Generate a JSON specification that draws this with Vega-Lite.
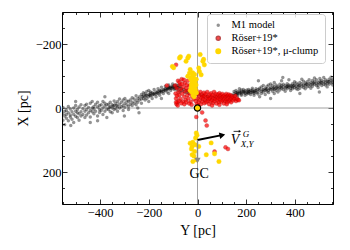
{
"$schema":"https://vega.github.io/schema/vega-lite/v6.json",
"width":271,"height":192,
"autosize":{"type":"none"},
"padding":{"left":62,"top":12,"right":17,"bottom":46},
"config":{"font":"Liberation Serif","view":{"stroke":"black","strokeWidth":1}},
"datasets":{
"pts":[
{"s":"g","Y":-558,"X":30},{"s":"g","Y":-558,"X":5},{"s":"g","Y":-558,"X":45},
{"s":"g","Y":-552,"X":18},{"s":"g","Y":-552,"X":-2},{"s":"g","Y":-552,"X":38},
{"s":"g","Y":-545,"X":25},{"s":"g","Y":-545,"X":10},{"s":"g","Y":-545,"X":52},
{"s":"g","Y":-538,"X":8},{"s":"g","Y":-538,"X":32},{"s":"g","Y":-538,"X":20},
{"s":"g","Y":-530,"X":15},{"s":"g","Y":-530,"X":40},{"s":"g","Y":-530,"X":-5},
{"s":"g","Y":-522,"X":22},{"s":"g","Y":-522,"X":3},{"s":"g","Y":-522,"X":28},
{"s":"g","Y":-515,"X":12},{"s":"g","Y":-515,"X":35},
{"s":"g","Y":-508,"X":0},{"s":"g","Y":-508,"X":20},{"s":"g","Y":-508,"X":45},
{"s":"g","Y":-500,"X":10},{"s":"g","Y":-500,"X":26},{"s":"g","Y":-500,"X":-8},
{"s":"g","Y":-493,"X":5},{"s":"g","Y":-493,"X":30},{"s":"g","Y":-493,"X":15},
{"s":"g","Y":-486,"X":-3},{"s":"g","Y":-486,"X":18},{"s":"g","Y":-486,"X":38},
{"s":"g","Y":-478,"X":12},{"s":"g","Y":-478,"X":-10},{"s":"g","Y":-478,"X":25},
{"s":"g","Y":-470,"X":2},{"s":"g","Y":-470,"X":20},
{"s":"g","Y":-462,"X":-8},{"s":"g","Y":-462,"X":10},{"s":"g","Y":-462,"X":30},
{"s":"g","Y":-455,"X":5},{"s":"g","Y":-455,"X":-12},{"s":"g","Y":-455,"X":22},
{"s":"g","Y":-447,"X":-2},{"s":"g","Y":-447,"X":15},
{"s":"g","Y":-440,"X":8},{"s":"g","Y":-440,"X":-15},{"s":"g","Y":-440,"X":28},
{"s":"g","Y":-432,"X":0},{"s":"g","Y":-432,"X":12},{"s":"g","Y":-432,"X":-20},
{"s":"g","Y":-425,"X":-5},{"s":"g","Y":-425,"X":18},{"s":"g","Y":-425,"X":3},
{"s":"g","Y":-418,"X":10},{"s":"g","Y":-418,"X":-12},
{"s":"g","Y":-410,"X":-3},{"s":"g","Y":-410,"X":25},{"s":"g","Y":-410,"X":-18},
{"s":"g","Y":-402,"X":5},{"s":"g","Y":-402,"X":-8},{"s":"g","Y":-402,"X":14},
{"s":"g","Y":-395,"X":-10},{"s":"g","Y":-395,"X":8},
{"s":"g","Y":-388,"X":0},{"s":"g","Y":-388,"X":-20},{"s":"g","Y":-388,"X":20},
{"s":"g","Y":-380,"X":-6},{"s":"g","Y":-380,"X":10},{"s":"g","Y":-380,"X":-15},
{"s":"g","Y":-372,"X":3},{"s":"g","Y":-372,"X":-10},{"s":"g","Y":-372,"X":30},
{"s":"g","Y":-365,"X":-12},{"s":"g","Y":-365,"X":5},
{"s":"g","Y":-358,"X":-4},{"s":"g","Y":-358,"X":-18},{"s":"g","Y":-358,"X":12},
{"s":"g","Y":-350,"X":0},{"s":"g","Y":-350,"X":-10},{"s":"g","Y":-350,"X":15},
{"s":"g","Y":-342,"X":-8},{"s":"g","Y":-342,"X":-22},{"s":"g","Y":-342,"X":5},
{"s":"g","Y":-335,"X":-14},{"s":"g","Y":-335,"X":2},
{"s":"g","Y":-328,"X":-5},{"s":"g","Y":-328,"X":-20},{"s":"g","Y":-328,"X":10},
{"s":"g","Y":-320,"X":-12},{"s":"g","Y":-320,"X":0},{"s":"g","Y":-320,"X":-28},
{"s":"g","Y":-312,"X":-18},{"s":"g","Y":-312,"X":-4},
{"s":"g","Y":-305,"X":-8},{"s":"g","Y":-305,"X":-25},{"s":"g","Y":-305,"X":8},
{"s":"g","Y":-298,"X":-15},{"s":"g","Y":-298,"X":-2},{"s":"g","Y":-298,"X":-30},
{"s":"g","Y":-290,"X":-10},{"s":"g","Y":-290,"X":-22},
{"s":"g","Y":-283,"X":-20},{"s":"g","Y":-283,"X":-5},{"s":"g","Y":-283,"X":5},
{"s":"g","Y":-276,"X":-25},{"s":"g","Y":-276,"X":-12},
{"s":"g","Y":-268,"X":-18},{"s":"g","Y":-268,"X":-32},{"s":"g","Y":-268,"X":-8},
{"s":"g","Y":-260,"X":-28},{"s":"g","Y":-260,"X":-15},
{"s":"g","Y":-252,"X":-22},{"s":"g","Y":-252,"X":-38},{"s":"g","Y":-252,"X":-10},
{"s":"g","Y":-245,"X":-30},{"s":"g","Y":-245,"X":-18},{"s":"g","Y":-245,"X":0},
{"s":"g","Y":-238,"X":-35},{"s":"g","Y":-238,"X":-25},
{"s":"g","Y":-230,"X":-28},{"s":"g","Y":-230,"X":-42},{"s":"g","Y":-230,"X":-15},
{"s":"g","Y":-222,"X":-38},{"s":"g","Y":-222,"X":-30},{"s":"g","Y":-222,"X":-48},
{"s":"g","Y":-215,"X":-35},{"s":"g","Y":-215,"X":-45},{"s":"g","Y":-215,"X":-25},
{"s":"g","Y":-208,"X":-40},{"s":"g","Y":-208,"X":-52},{"s":"g","Y":-208,"X":-30},
{"s":"g","Y":-200,"X":-42},{"s":"g","Y":-200,"X":-35},{"s":"g","Y":-200,"X":-55},{"s":"g","Y":-200,"X":-20},
{"s":"g","Y":-193,"X":-45},{"s":"g","Y":-193,"X":-38},{"s":"g","Y":-193,"X":-50},
{"s":"g","Y":-186,"X":-40},{"s":"g","Y":-186,"X":-48},{"s":"g","Y":-186,"X":-30},
{"s":"g","Y":-178,"X":-46},{"s":"g","Y":-178,"X":-42},{"s":"g","Y":-178,"X":-58},
{"s":"g","Y":-170,"X":-44},{"s":"g","Y":-170,"X":-50},{"s":"g","Y":-170,"X":-35},
{"s":"g","Y":-162,"X":-52},{"s":"g","Y":-162,"X":-45},{"s":"g","Y":-162,"X":-60},
{"s":"g","Y":-155,"X":-48},{"s":"g","Y":-155,"X":-55},{"s":"g","Y":-155,"X":-40},
{"s":"g","Y":-148,"X":-55},{"s":"g","Y":-148,"X":-50},{"s":"g","Y":-148,"X":-65},{"s":"g","Y":-148,"X":-30},
{"s":"g","Y":-140,"X":-58},{"s":"g","Y":-140,"X":-52},{"s":"g","Y":-140,"X":-45},
{"s":"g","Y":-132,"X":-60},{"s":"g","Y":-132,"X":-55},{"s":"g","Y":-132,"X":-68},
{"s":"g","Y":-125,"X":-62},{"s":"g","Y":-125,"X":-58},{"s":"g","Y":-125,"X":-50},
{"s":"g","Y":-118,"X":-65},{"s":"g","Y":-118,"X":-60},{"s":"g","Y":-118,"X":-72},{"s":"g","Y":-118,"X":-45},
{"s":"g","Y":-110,"X":-66},{"s":"g","Y":-110,"X":-62},{"s":"g","Y":-110,"X":-55},
{"s":"g","Y":-102,"X":-68},{"s":"g","Y":-102,"X":-64},{"s":"g","Y":-102,"X":-75},
{"s":"g","Y":-95,"X":-70},{"s":"g","Y":-95,"X":-62},{"s":"g","Y":-95,"X":-58},
{"s":"g","Y":-88,"X":-66},{"s":"g","Y":-88,"X":-72},{"s":"g","Y":-88,"X":-60},
{"s":"g","Y":-80,"X":-64},{"s":"g","Y":-80,"X":-70},{"s":"g","Y":-80,"X":-55},
{"s":"g","Y":-72,"X":-62},{"s":"g","Y":-72,"X":-68},{"s":"g","Y":-72,"X":-50},
{"s":"g","Y":-65,"X":-60},{"s":"g","Y":-65,"X":-55},
{"s":"g","Y":-55,"X":-58},{"s":"g","Y":-55,"X":-50},
{"s":"g","Y":-45,"X":-55},{"s":"g","Y":-45,"X":-48},
{"s":"g","Y":-35,"X":-52},{"s":"g","Y":-35,"X":-45},
{"s":"g","Y":-25,"X":-50},{"s":"g","Y":-15,"X":-48},{"s":"g","Y":-5,"X":-45},
{"s":"g","Y":5,"X":-42},{"s":"g","Y":15,"X":-40},{"s":"g","Y":25,"X":-38},
{"s":"g","Y":40,"X":-36},{"s":"g","Y":55,"X":-35},{"s":"g","Y":70,"X":-34},
{"s":"g","Y":85,"X":-34},{"s":"g","Y":100,"X":-35},{"s":"g","Y":115,"X":-36},
{"s":"g","Y":130,"X":-38},{"s":"g","Y":140,"X":-40},
{"s":"g","Y":150,"X":-45},{"s":"g","Y":150,"X":-38},{"s":"g","Y":150,"X":-52},
{"s":"g","Y":158,"X":-48},{"s":"g","Y":158,"X":-42},{"s":"g","Y":158,"X":-55},
{"s":"g","Y":165,"X":-50},{"s":"g","Y":165,"X":-44},{"s":"g","Y":165,"X":-38},
{"s":"g","Y":172,"X":-52},{"s":"g","Y":172,"X":-46},{"s":"g","Y":172,"X":-60},
{"s":"g","Y":180,"X":-50},{"s":"g","Y":180,"X":-44},{"s":"g","Y":180,"X":-56},{"s":"g","Y":180,"X":-40},
{"s":"g","Y":188,"X":-52},{"s":"g","Y":188,"X":-48},{"s":"g","Y":188,"X":-58},
{"s":"g","Y":195,"X":-54},{"s":"g","Y":195,"X":-46},{"s":"g","Y":195,"X":-40},
{"s":"g","Y":203,"X":-50},{"s":"g","Y":203,"X":-56},{"s":"g","Y":203,"X":-44},
{"s":"g","Y":210,"X":-52},{"s":"g","Y":210,"X":-58},{"s":"g","Y":210,"X":-46},
{"s":"g","Y":218,"X":-48},{"s":"g","Y":218,"X":-55},{"s":"g","Y":218,"X":-42},
{"s":"g","Y":225,"X":-50},{"s":"g","Y":225,"X":-56},{"s":"g","Y":225,"X":-62},
{"s":"g","Y":232,"X":-52},{"s":"g","Y":232,"X":-46},{"s":"g","Y":232,"X":-40},
{"s":"g","Y":240,"X":-54},{"s":"g","Y":240,"X":-60},{"s":"g","Y":240,"X":-48},
{"s":"g","Y":248,"X":-50},{"s":"g","Y":248,"X":-44},{"s":"g","Y":248,"X":-58},
{"s":"g","Y":255,"X":-56},{"s":"g","Y":255,"X":-62},{"s":"g","Y":255,"X":-35},
{"s":"g","Y":262,"X":-52},{"s":"g","Y":262,"X":-66},{"s":"g","Y":262,"X":-45},
{"s":"g","Y":270,"X":-58},{"s":"g","Y":270,"X":-50},{"s":"g","Y":270,"X":-70},
{"s":"g","Y":278,"X":-62},{"s":"g","Y":278,"X":-55},{"s":"g","Y":278,"X":-42},
{"s":"g","Y":285,"X":-60},{"s":"g","Y":285,"X":-68},{"s":"g","Y":285,"X":-52},
{"s":"g","Y":292,"X":-55},{"s":"g","Y":292,"X":-72},{"s":"g","Y":292,"X":-48},
{"s":"g","Y":300,"X":-64},{"s":"g","Y":300,"X":-58},{"s":"g","Y":300,"X":-75},
{"s":"g","Y":308,"X":-60},{"s":"g","Y":308,"X":-70},{"s":"g","Y":308,"X":-52},
{"s":"g","Y":315,"X":-66},{"s":"g","Y":315,"X":-58},{"s":"g","Y":315,"X":-80},{"s":"g","Y":315,"X":-45},
{"s":"g","Y":322,"X":-62},{"s":"g","Y":322,"X":-72},{"s":"g","Y":322,"X":-55},
{"s":"g","Y":330,"X":-68},{"s":"g","Y":330,"X":-60},{"s":"g","Y":330,"X":-50},
{"s":"g","Y":338,"X":-64},{"s":"g","Y":338,"X":-74},{"s":"g","Y":338,"X":-56},
{"s":"g","Y":345,"X":-70},{"s":"g","Y":345,"X":-62},{"s":"g","Y":345,"X":-85},
{"s":"g","Y":352,"X":-66},{"s":"g","Y":352,"X":-58},{"s":"g","Y":352,"X":-74},
{"s":"g","Y":360,"X":-62},{"s":"g","Y":360,"X":-70},{"s":"g","Y":360,"X":-52},
{"s":"g","Y":368,"X":-68},{"s":"g","Y":368,"X":-76},{"s":"g","Y":368,"X":-60},
{"s":"g","Y":375,"X":-64},{"s":"g","Y":375,"X":-72},{"s":"g","Y":375,"X":-88},
{"s":"g","Y":382,"X":-70},{"s":"g","Y":382,"X":-62},{"s":"g","Y":382,"X":-55},
{"s":"g","Y":390,"X":-66},{"s":"g","Y":390,"X":-76},{"s":"g","Y":390,"X":-60},
{"s":"g","Y":398,"X":-72},{"s":"g","Y":398,"X":-64},{"s":"g","Y":398,"X":-82},
{"s":"g","Y":405,"X":-68},{"s":"g","Y":405,"X":-60},{"s":"g","Y":405,"X":-78},
{"s":"g","Y":412,"X":-74},{"s":"g","Y":412,"X":-66},{"s":"g","Y":412,"X":-58},
{"s":"g","Y":420,"X":-70},{"s":"g","Y":420,"X":-80},{"s":"g","Y":420,"X":-62},
{"s":"g","Y":428,"X":-76},{"s":"g","Y":428,"X":-68},{"s":"g","Y":428,"X":-90},
{"s":"g","Y":435,"X":-72},{"s":"g","Y":435,"X":-64},{"s":"g","Y":435,"X":-84},
{"s":"g","Y":442,"X":-78},{"s":"g","Y":442,"X":-70},{"s":"g","Y":442,"X":-60},
{"s":"g","Y":450,"X":-74},{"s":"g","Y":450,"X":-82},{"s":"g","Y":450,"X":-66},
{"s":"g","Y":458,"X":-76},{"s":"g","Y":458,"X":-68},{"s":"g","Y":458,"X":-88},
{"s":"g","Y":465,"X":-80},{"s":"g","Y":465,"X":-72},{"s":"g","Y":465,"X":-62},
{"s":"g","Y":472,"X":-76},{"s":"g","Y":472,"X":-86},{"s":"g","Y":472,"X":-68},
{"s":"g","Y":480,"X":-82},{"s":"g","Y":480,"X":-74},{"s":"g","Y":480,"X":-94},
{"s":"g","Y":488,"X":-78},{"s":"g","Y":488,"X":-70},{"s":"g","Y":488,"X":-88},
{"s":"g","Y":495,"X":-80},{"s":"g","Y":495,"X":-72},{"s":"g","Y":495,"X":-64},
{"s":"g","Y":502,"X":-84},{"s":"g","Y":502,"X":-76},{"s":"g","Y":502,"X":-92},
{"s":"g","Y":510,"X":-78},{"s":"g","Y":510,"X":-70},{"s":"g","Y":510,"X":-86},
{"s":"g","Y":518,"X":-82},{"s":"g","Y":518,"X":-74},{"s":"g","Y":518,"X":-95},
{"s":"g","Y":525,"X":-80},{"s":"g","Y":525,"X":-88},{"s":"g","Y":525,"X":-72},
{"s":"g","Y":532,"X":-84},{"s":"g","Y":532,"X":-76},{"s":"g","Y":532,"X":-66},
{"s":"g","Y":540,"X":-82},{"s":"g","Y":540,"X":-90},{"s":"g","Y":540,"X":-74},
{"s":"g","Y":548,"X":-86},{"s":"g","Y":548,"X":-78},{"s":"g","Y":548,"X":-96},
{"s":"g","Y":555,"X":-80},{"s":"g","Y":555,"X":-88},{"s":"g","Y":555,"X":-72},
{"s":"g","Y":-440,"X":45},{"s":"g","Y":-300,"X":25},{"s":"g","Y":-380,"X":-35},{"s":"g","Y":-240,"X":15},
{"s":"g","Y":300,"X":-30},{"s":"g","Y":420,"X":-45},{"s":"g","Y":500,"X":-50},{"s":"g","Y":250,"X":-85},
{"s":"g","Y":350,"X":-95},{"s":"g","Y":-500,"X":-20},{"s":"g","Y":-520,"X":55},{"s":"g","Y":-410,"X":40},
{"s":"g","Y":-196,"X":-40},{"s":"g","Y":-182,"X":-44},{"s":"g","Y":-166,"X":-48},{"s":"g","Y":-152,"X":-52},
{"s":"g","Y":-114,"X":-64},{"s":"g","Y":-106,"X":-60},{"s":"g","Y":-98,"X":-66},{"s":"g","Y":-84,"X":-64},
{"s":"g","Y":162,"X":-46},{"s":"g","Y":176,"X":-48},{"s":"g","Y":192,"X":-50},{"s":"g","Y":206,"X":-48},
{"s":"g","Y":214,"X":-52},{"s":"g","Y":228,"X":-50},{"s":"g","Y":236,"X":-54},{"s":"g","Y":365,"X":-66},
{"s":"g","Y":372,"X":-68},{"s":"g","Y":386,"X":-68},{"s":"g","Y":394,"X":-70},{"s":"g","Y":-362,"X":-2},
{"s":"g","Y":-346,"X":-6},{"s":"g","Y":-332,"X":-8},
{"s":"g","Y":268,"X":-56},{"s":"g","Y":282,"X":-58},{"s":"g","Y":296,"X":-60},{"s":"g","Y":312,"X":-62},
{"s":"g","Y":326,"X":-64},{"s":"g","Y":342,"X":-66},{"s":"g","Y":416,"X":-70},{"s":"g","Y":446,"X":-74},
{"s":"g","Y":476,"X":-78},{"s":"g","Y":506,"X":-80},{"s":"g","Y":536,"X":-82},{"s":"g","Y":-226,"X":-36},
{"s":"g","Y":-212,"X":-40},{"s":"g","Y":-136,"X":-56},{"s":"g","Y":-122,"X":-60},
{"s":"r","Y":-92,"X":-70},{"s":"r","Y":-85,"X":-62},{"s":"r","Y":-80,"X":-85},{"s":"r","Y":-78,"X":-50},
{"s":"r","Y":-75,"X":-40},{"s":"r","Y":-72,"X":-72},{"s":"r","Y":-70,"X":-28},{"s":"r","Y":-68,"X":-58},
{"s":"r","Y":-65,"X":-90},{"s":"r","Y":-62,"X":-45},{"s":"r","Y":-60,"X":-20},{"s":"r","Y":-58,"X":-66},
{"s":"r","Y":-55,"X":-35},{"s":"r","Y":-52,"X":-78},{"s":"r","Y":-50,"X":-52},{"s":"r","Y":-48,"X":-25},
{"s":"r","Y":-45,"X":-62},{"s":"r","Y":-42,"X":-40},{"s":"r","Y":-40,"X":-85},{"s":"r","Y":-38,"X":-30},
{"s":"r","Y":-36,"X":-55},{"s":"r","Y":-33,"X":-70},{"s":"r","Y":-30,"X":-45},{"s":"r","Y":-28,"X":-20},
{"s":"r","Y":-25,"X":-60},{"s":"r","Y":-22,"X":-35},{"s":"r","Y":-20,"X":-80},{"s":"r","Y":-18,"X":-50},
{"s":"r","Y":-15,"X":-28},{"s":"r","Y":-12,"X":-65},{"s":"r","Y":-10,"X":-42},{"s":"r","Y":-8,"X":-22},
{"s":"r","Y":-5,"X":-55},{"s":"r","Y":-88,"X":-30},{"s":"r","Y":-82,"X":-18},{"s":"r","Y":-86,"X":-12},
{"s":"r","Y":-76,"X":-22},{"s":"r","Y":-66,"X":-15},{"s":"r","Y":-54,"X":-12},{"s":"r","Y":-46,"X":-18},
{"s":"r","Y":-34,"X":-14},{"s":"r","Y":-24,"X":-10},{"s":"r","Y":-90,"X":-45},{"s":"r","Y":-84,"X":-38},
{"s":"r","Y":-74,"X":-80},{"s":"r","Y":-64,"X":-75},{"s":"r","Y":-56,"X":-88},{"s":"r","Y":-44,"X":-72},
{"s":"r","Y":0,"X":-30},{"s":"r","Y":3,"X":-45},{"s":"r","Y":5,"X":-18},{"s":"r","Y":8,"X":-38},
{"s":"r","Y":10,"X":-25},{"s":"r","Y":12,"X":-50},{"s":"r","Y":14,"X":-12},{"s":"r","Y":16,"X":-32},
{"s":"r","Y":18,"X":-42},{"s":"r","Y":20,"X":-20},{"s":"r","Y":22,"X":-35},{"s":"r","Y":24,"X":-28},
{"s":"r","Y":26,"X":-48},{"s":"r","Y":28,"X":-15},{"s":"r","Y":30,"X":-38},{"s":"r","Y":32,"X":-25},
{"s":"r","Y":34,"X":-44},{"s":"r","Y":36,"X":-18},{"s":"r","Y":38,"X":-32},{"s":"r","Y":40,"X":-50},
{"s":"r","Y":42,"X":-22},{"s":"r","Y":44,"X":-36},{"s":"r","Y":46,"X":-28},{"s":"r","Y":48,"X":-12},
{"s":"r","Y":50,"X":-42},{"s":"r","Y":52,"X":-30},{"s":"r","Y":54,"X":-20},{"s":"r","Y":56,"X":-46},
{"s":"r","Y":58,"X":-34},{"s":"r","Y":60,"X":-24},{"s":"r","Y":62,"X":-40},{"s":"r","Y":64,"X":-16},
{"s":"r","Y":66,"X":-30},{"s":"r","Y":68,"X":-50},{"s":"r","Y":70,"X":-22},{"s":"r","Y":72,"X":-38},
{"s":"r","Y":74,"X":-28},{"s":"r","Y":76,"X":-44},{"s":"r","Y":78,"X":-14},{"s":"r","Y":80,"X":-34},
{"s":"r","Y":82,"X":-24},{"s":"r","Y":84,"X":-42},{"s":"r","Y":86,"X":-30},{"s":"r","Y":88,"X":-18},
{"s":"r","Y":90,"X":-46},{"s":"r","Y":92,"X":-36},{"s":"r","Y":94,"X":-26},{"s":"r","Y":96,"X":-40},
{"s":"r","Y":98,"X":-20},{"s":"r","Y":100,"X":-32},{"s":"r","Y":102,"X":-44},{"s":"r","Y":104,"X":-24},
{"s":"r","Y":106,"X":-36},{"s":"r","Y":108,"X":-14},{"s":"r","Y":110,"X":-28},{"s":"r","Y":112,"X":-40},
{"s":"r","Y":114,"X":-22},{"s":"r","Y":116,"X":-34},{"s":"r","Y":118,"X":-44},{"s":"r","Y":120,"X":-26},
{"s":"r","Y":122,"X":-18},{"s":"r","Y":124,"X":-38},{"s":"r","Y":126,"X":-30},{"s":"r","Y":128,"X":-42},
{"s":"r","Y":130,"X":-22},{"s":"r","Y":132,"X":-34},{"s":"r","Y":134,"X":-26},{"s":"r","Y":136,"X":-40},
{"s":"r","Y":138,"X":-18},{"s":"r","Y":140,"X":-30},{"s":"r","Y":143,"X":-36},{"s":"r","Y":146,"X":-24},
{"s":"r","Y":149,"X":-32},{"s":"r","Y":152,"X":-28},{"s":"r","Y":155,"X":-38},{"s":"r","Y":158,"X":-22},
{"s":"r","Y":162,"X":-30},{"s":"r","Y":166,"X":-26},{"s":"r","Y":170,"X":-24},{"s":"r","Y":2,"X":-8},
{"s":"r","Y":-3,"X":-12},{"s":"r","Y":60,"X":-8},{"s":"r","Y":90,"X":-10},{"s":"r","Y":120,"X":-12},
{"s":"r","Y":-88,"X":-135},{"s":"r","Y":-126,"X":-70},{"s":"r","Y":-88,"X":-18},{"s":"r","Y":-81,"X":-8},
{"s":"r","Y":-5,"X":28},{"s":"r","Y":33,"X":39},{"s":"r","Y":38,"X":55},{"s":"r","Y":19,"X":14},
{"s":"r","Y":70,"X":136},{"s":"r","Y":115,"X":123},{"s":"r","Y":125,"X":128},
{"s":"y","Y":-103,"X":-130},{"s":"y","Y":-98,"X":-126},{"s":"y","Y":-74,"X":-156},{"s":"y","Y":-70,"X":-160},
{"s":"y","Y":-40,"X":-156},{"s":"y","Y":-36,"X":-162},{"s":"y","Y":-47,"X":-146},{"s":"y","Y":11,"X":-167},
{"s":"y","Y":22,"X":-146},{"s":"y","Y":25,"X":-152},{"s":"y","Y":28,"X":-135},{"s":"y","Y":8,"X":-114},
{"s":"y","Y":15,"X":-104},{"s":"y","Y":-33,"X":-109},{"s":"y","Y":-40,"X":-99},{"s":"y","Y":-25,"X":-95},
{"s":"y","Y":-30,"X":-120},{"s":"y","Y":-20,"X":-110},{"s":"y","Y":5,"X":-125},
{"s":"y","Y":-28,"X":-90},{"s":"y","Y":-22,"X":-85},{"s":"y","Y":-15,"X":-92},{"s":"y","Y":-10,"X":-80},
{"s":"y","Y":-25,"X":-75},{"s":"y","Y":-18,"X":-70},{"s":"y","Y":-12,"X":-65},{"s":"y","Y":-22,"X":-60},
{"s":"y","Y":-8,"X":-58},{"s":"y","Y":-16,"X":-52},{"s":"y","Y":-24,"X":-50},{"s":"y","Y":-10,"X":-45},
{"s":"y","Y":-18,"X":-40},{"s":"y","Y":-14,"X":-35},{"s":"y","Y":-6,"X":-72},{"s":"y","Y":-20,"X":-100},
{"s":"y","Y":-12,"X":-105},{"s":"y","Y":-5,"X":-90},{"s":"y","Y":-26,"X":-65},{"s":"y","Y":-4,"X":-48},
{"s":"y","Y":-30,"X":-55},
{"s":"y","Y":-5,"X":78},{"s":"y","Y":-8,"X":94},{"s":"y","Y":-2,"X":85},{"s":"y","Y":-19,"X":107},
{"s":"y","Y":-22,"X":120},{"s":"y","Y":-12,"X":136},{"s":"y","Y":-22,"X":146},{"s":"y","Y":-5,"X":162},
{"s":"y","Y":-19,"X":167},{"s":"y","Y":56,"X":109},{"s":"y","Y":36,"X":146},{"s":"y","Y":70,"X":143},
{"s":"y","Y":88,"X":167},{"s":"y","Y":-30,"X":110},{"s":"y","Y":-25,"X":128},{"s":"y","Y":-15,"X":150},
{"s":"y","Y":5,"X":120},{"s":"y","Y":-10,"X":115}
]},
"resolve":{"axis":{"x":"independent","y":"independent"}},
"layer":[
{"data":{"values":[{"Y":0}]},
 "mark":{"type":"rule","color":"#a0a0a0","strokeWidth":1},
 "encoding":{"x":{"field":"Y","type":"quantitative","scale":{"domain":[-556,556],"nice":false,"zero":false},
  "axis":{"orient":"bottom","values":[-550,-500,-450,-400,-350,-300,-250,-200,-150,-100,-50,0,50,100,150,200,250,300,350,400,450,500,550],
   "title":"Y [pc]","domain":false,"grid":false,"tickColor":"black","tickWidth":0.8,
   "tickSize":{"condition":{"test":"datum.value % 200 === 0","value":-5},"value":-2.5},
   "labelExpr":"datum.value % 200 === 0 ? datum.label : ''","labelFontSize":12.5,"labelColor":"black","labelPadding":7,
   "labelFlush":false,"labelOverlap":false,"titleFontSize":14,"titleFontWeight":"normal","titleColor":"black","titlePadding":2}}}},
{"data":{"values":[{"X":0}]},
 "mark":{"type":"rule","color":"#a0a0a0","strokeWidth":1},
 "encoding":{"y":{"field":"X","type":"quantitative","scale":{"domain":[-300,300],"nice":false,"zero":false,"reverse":true},
  "axis":{"orient":"left","values":[-300,-250,-200,-150,-100,-50,0,50,100,150,200,250,300],
   "title":"X [pc]","domain":false,"grid":false,"tickColor":"black","tickWidth":0.8,
   "tickSize":{"condition":{"test":"datum.value % 200 === 0","value":-5},"value":-2.5},
   "labelExpr":"datum.value % 200 === 0 ? datum.label : ''","labelFontSize":12.5,"labelColor":"black","labelPadding":6,
   "labelFlush":false,"labelOverlap":false,"titleFontSize":14,"titleFontWeight":"normal","titleColor":"black","titlePadding":5}}}},
{"data":{"name":"pts"},
 "mark":{"type":"point","filled":true,"strokeWidth":0.4,"clip":true},
 "encoding":{
  "x":{"field":"Y","type":"quantitative","axis":null},
  "y":{"field":"X","type":"quantitative","axis":null},
  "color":{"field":"s","type":"nominal","scale":{"domain":["g","r","y"],"range":["#000000","#ff0000","#ffd700"]},
   "legend":{"orient":"none","legendX":145,"legendY":2,"title":null,
    "labelExpr":"datum.label == 'g' ? 'M1 model' : datum.label == 'r' ? 'Röser+19*' : 'Röser+19*, μ-clump'",
    "labelFontSize":10.5,"labelColor":"black","labelOffset":8,"fillColor":"rgba(255,255,255,0.85)","strokeColor":"#cccccc",
    "cornerRadius":3,"padding":6,"rowPadding":2,"symbolType":"circle"}},
  "stroke":{"field":"s","type":"nominal","scale":{"domain":["g","r","y"],"range":["rgba(0,0,0,0)","#a00000","#ffd700"]}},
  "size":{"field":"s","type":"nominal","scale":{"domain":["g","r","y"],"range":[12,20,30]}},
  "opacity":{"field":"s","type":"nominal","scale":{"domain":["g","r","y"],"range":[0.42,1,1]}}
 }},
{"data":{"values":[{"Y":0,"X":100,"Y2":100,"X2":85}]},
 "mark":{"type":"rule","color":"black","strokeWidth":1.8},
 "encoding":{"x":{"field":"Y","type":"quantitative",
   "axis":{"orient":"top","values":[-550,-500,-450,-400,-350,-300,-250,-200,-150,-100,-50,0,50,100,150,200,250,300,350,400,450,500,550],
   "title":null,"labels":false,"domain":false,"grid":false,"tickColor":"black","tickWidth":0.8,
   "tickSize":{"condition":{"test":"datum.value % 200 === 0","value":-5},"value":-2.5}}},
  "y":{"field":"X","type":"quantitative",
   "axis":{"orient":"right","values":[-300,-250,-200,-150,-100,-50,0,50,100,150,200,250,300],
   "title":null,"labels":false,"domain":false,"grid":false,"tickColor":"black","tickWidth":0.8,
   "tickSize":{"condition":{"test":"datum.value % 200 === 0","value":-5},"value":-2.5}}},
  "x2":{"field":"Y2"},"y2":{"field":"X2"}}},
{"data":{"values":[{"Y":102,"X":85}]},
 "mark":{"type":"point","shape":"triangle-right","filled":true,"color":"black","size":45,"angle":-12,"opacity":1},
 "encoding":{"x":{"field":"Y","type":"quantitative","axis":null},"y":{"field":"X","type":"quantitative","axis":null}}},
{"data":{"values":[{"Y":0,"X":100,"Y2":0,"X2":160}]},
 "mark":{"type":"rule","color":"#888888","strokeWidth":1.4},
 "encoding":{"x":{"field":"Y","type":"quantitative","axis":null},"y":{"field":"X","type":"quantitative","axis":null},
  "x2":{"field":"Y2"},"y2":{"field":"X2"}}},
{"data":{"values":[{"Y":0,"X":164}]},
 "mark":{"type":"point","shape":"triangle-down","filled":true,"color":"#888888","size":40,"opacity":1},
 "encoding":{"x":{"field":"Y","type":"quantitative","axis":null},"y":{"field":"X","type":"quantitative","axis":null}}},
{"data":{"values":[{"Y":0,"X":0}]},
 "mark":{"type":"point","filled":true,"fill":"#ffd700","stroke":"black","strokeWidth":1.2,"size":40,"opacity":1},
 "encoding":{"x":{"field":"Y","type":"quantitative","axis":null},"y":{"field":"X","type":"quantitative","axis":null}}},
{"data":{"values":[{"Y":7,"X":206,"t":"GC"}]},
 "mark":{"type":"text","fontSize":14,"align":"center","baseline":"middle","color":"black"},
 "encoding":{"x":{"field":"Y","type":"quantitative","axis":null},"y":{"field":"X","type":"quantitative","axis":null},"text":{"field":"t"}}},
{"data":{"values":[{"Y":136,"X":112,"t":"V"}]},
 "mark":{"type":"text","fontSize":14,"fontStyle":"italic","align":"left","baseline":"alphabetic","color":"black"},
 "encoding":{"x":{"field":"Y","type":"quantitative","axis":null},"y":{"field":"X","type":"quantitative","axis":null},"text":{"field":"t"}}},
{"data":{"values":[{"Y":148,"X":73,"Y2":175,"X2":73}]},
 "mark":{"type":"rule","color":"black","strokeWidth":0.8},
 "encoding":{"x":{"field":"Y","type":"quantitative","axis":null},"y":{"field":"X","type":"quantitative","axis":null},
  "x2":{"field":"Y2"},"y2":{"field":"X2"}}},
{"data":{"values":[{"Y":174,"X":73}]},
 "mark":{"type":"point","shape":"triangle-right","filled":true,"color":"black","size":7,"opacity":1},
 "encoding":{"x":{"field":"Y","type":"quantitative","axis":null},"y":{"field":"X","type":"quantitative","axis":null}}},
{"data":{"values":[{"Y":186,"X":92,"t":"G"},{"Y":177,"X":123,"t":"X,Y"}]},
 "mark":{"type":"text","fontSize":9,"fontStyle":"italic","align":"left","baseline":"alphabetic","color":"black"},
 "encoding":{"x":{"field":"Y","type":"quantitative","axis":null},"y":{"field":"X","type":"quantitative","axis":null},"text":{"field":"t"}}}
]
}
